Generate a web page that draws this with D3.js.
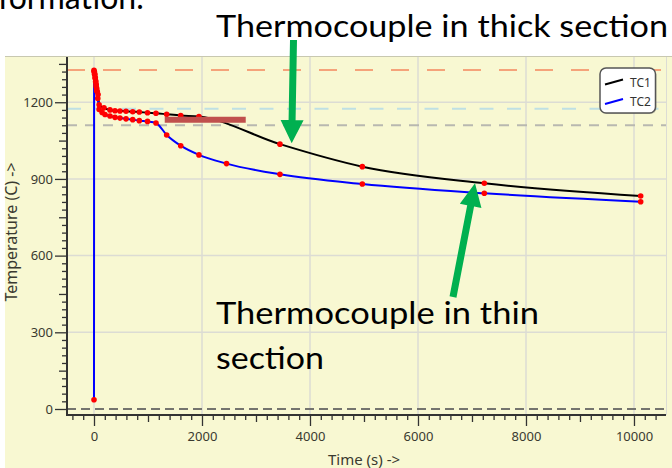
<!DOCTYPE html>
<html><head><meta charset="utf-8">
<script src="https://cdn.jsdelivr.net/npm/d3@7"></script>
<style>html,body{margin:0;padding:0;background:#fff;}svg{display:block;}</style>
</head><body>
<script>
// ---- data ----
const tc1Time = [0,8,16,24,32,40,50,60,75,95,185,296,389,481,593,717,839,991,1148,1346,1606,1944,3444,4969,7228,10124];
const tc1Temp = [1325,1318,1308,1296,1283,1270,1255,1242,1230,1190,1178,1170,1167,1166,1165,1163,1162,1159,1157,1153,1148,1144,1036,948,883,833];
const tc2Time = [0,2,10,20,30,40,50,70,95,150,204,296,389,481,593,717,839,991,1148,1346,1606,1944,2454,3444,4969,7228,10124];
const tc2Temp = [36,1320,1310,1295,1280,1262,1245,1215,1172,1160,1152,1146,1141,1138,1135,1132,1128,1125,1119,1072,1030,994,960,918,880,844,811];
const xTickValues = [0,2000,4000,6000,8000,10000];
const yTickValues = [0,300,600,900,1200];
const refLevels = [1326,1175,1110,0];
const seriesNames = ["TC1","TC2"];
const xLabel = "Time (s) ->";
const yLabel = "Temperature (C) ->";
const noteTop = "Thermocouple in thick section";
const noteThin = ["Thermocouple in thin","section"];
const noteCut = "formation.";

const W=672,H=468;
const svg=d3.select("body").append("svg").attr("width",W).attr("height",H);
const L=67,R=666,T=57,B=415;
const x=d3.scaleLinear().domain([-500,10593]).range([L,R]);
const y=d3.scaleLinear().domain([-23.5,1377]).range([B,T]);
const bg="#f8f8d2";
svg.append("rect").attr("x",5).attr("y",56).attr("width",W-5).attr("height",H-56).attr("fill",bg);
svg.append("line").attr("x1",5).attr("x2",W).attr("y1",56.5).attr("y2",56.5).attr("stroke","#c8c8b0").attr("stroke-width",1);

// grid
const grid=svg.append("g");
grid.selectAll(".vg").data(xTickValues).join("line").attr("x1",d=>x(d)).attr("x2",d=>x(d)).attr("y1",T).attr("y2",B).attr("stroke","#dcdcd4").attr("stroke-width",1.5);
grid.selectAll(".hg").data(yTickValues.filter(d=>d>0)).join("line").attr("x1",L).attr("x2",R).attr("y1",d=>y(d)).attr("y2",d=>y(d)).attr("stroke","#dcdcd4").attr("stroke-width",1.5);
svg.append("line").attr("x1",R+0.5).attr("x2",R+0.5).attr("y1",T).attr("y2",B).attr("stroke","#dcdcd4").attr("stroke-width",1);

// reference dashed lines
const refStyle=[{c:"#f5a37a",d:"18,18",w:2},{c:"#bfe0e4",d:"14,13.5",w:2},{c:"#b8b8b0",d:"10,8",w:2},{c:"#74746e",d:"9,5",w:2.2}];
svg.selectAll(".ref").data(refLevels).join("line").attr("x1",L).attr("x2",R).attr("y1",d=>y(d)).attr("y2",d=>y(d))
 .attr("stroke",(d,i)=>refStyle[i].c).attr("stroke-dasharray",(d,i)=>refStyle[i].d).attr("stroke-width",(d,i)=>refStyle[i].w);

// axes
const fontAx="'Noto Sans', 'Open Sans', sans-serif";
function styleAxis(g){g.select(".domain").remove();g.selectAll("line").attr("stroke","#333").attr("stroke-width",1.3);g.selectAll("text").attr("fill","#3a3a30").attr("font-family",fontAx).attr("font-size",13);}
const yMinor=d3.range(-0,1377,30).filter(v=>v%150!==0);
const yMed=d3.range(150,1377,300);
svg.append("g").attr("transform",`translate(${L},0)`).call(d3.axisLeft(y).tickValues(yMinor).tickSize(5).tickFormat("")).call(styleAxis);
svg.append("g").attr("transform",`translate(${L},0)`).call(d3.axisLeft(y).tickValues(yMed).tickSize(8).tickFormat("")).call(styleAxis);
svg.append("g").attr("transform",`translate(${L},0)`).call(d3.axisLeft(y).tickValues(yTickValues).tickSize(12).tickPadding(2).tickFormat(d3.format("d"))).call(styleAxis);
const xMinor=d3.range(-400,10593,200).filter(v=>v%1000!==0);
const xMed=d3.range(-0,10593,1000).filter(v=>v%2000!==0);
svg.append("g").attr("transform",`translate(0,${B})`).call(d3.axisBottom(x).tickValues(xMinor).tickSize(5).tickFormat("")).call(styleAxis);
svg.append("g").attr("transform",`translate(0,${B})`).call(d3.axisBottom(x).tickValues(xMed).tickSize(7).tickFormat("")).call(styleAxis);
svg.append("g").attr("transform",`translate(0,${B})`).call(d3.axisBottom(x).tickValues(xTickValues).tickSize(11).tickPadding(6).tickFormat(d3.format("d"))).call(styleAxis);
svg.append("line").attr("x1",L).attr("x2",L).attr("y1",T).attr("y2",B+1).attr("stroke","#333").attr("stroke-width",2);
svg.append("line").attr("x1",L-1).attr("x2",R).attr("y1",B).attr("y2",B).attr("stroke","#333").attr("stroke-width",2);

svg.append("text").attr("x",364).attr("y",465).attr("text-anchor","middle").attr("font-family",fontAx).attr("font-size",15).attr("fill","#3a3a30").text(xLabel);
svg.append("text").attr("transform",`translate(17,${(T+B)/2-4}) rotate(-90)`).attr("text-anchor","middle").attr("font-family",fontAx).attr("font-size",16).attr("fill","#3a3a30").text(yLabel);

// series
const s1=tc1Time.map((t,i)=>[t,tc1Temp[i]]);
const s2=tc2Time.map((t,i)=>[t,tc2Temp[i]]);
const line=d3.line().x(d=>x(d[0])).y(d=>y(d[1])).curve(d3.curveMonotoneX);
svg.append("path").datum(s1).attr("d",line).attr("fill","none").attr("stroke","#000").attr("stroke-width",2);
svg.append("path").datum(s2).attr("d",line).attr("fill","none").attr("stroke","#0000ff").attr("stroke-width",2);
svg.append("g").selectAll("circle").data(s1.concat(s2)).join("circle").attr("cx",d=>x(d[0])).attr("cy",d=>y(d[1])).attr("r",2.8).attr("fill","#ff0000");

// legend
const lg=svg.append("g");
lg.append("rect").attr("x",601).attr("y",69).attr("width",55.5).attr("height",45).attr("rx",6).attr("fill","#555").attr("opacity",0.25);
lg.append("rect").attr("x",600).attr("y",68).attr("width",55.5).attr("height",45).attr("rx",6).attr("fill","#fff").attr("stroke","#555").attr("stroke-width",1.5);
const lc=["#000","#0000ff"];
seriesNames.forEach((n,i)=>{
  const yy=82+i*19.5;
  lg.append("line").attr("x1",605).attr("x2",623).attr("y1",yy+2.5).attr("y2",yy-2.5).attr("stroke",lc[i]).attr("stroke-width",2);
  lg.append("text").attr("x",630).attr("y",yy+4.5).attr("font-family",fontAx).attr("font-size",12).attr("fill","#333").text(n);
});

// annotations
const fontNote="Lato, 'Open Sans', sans-serif";
svg.append("text").attr("x",-2).attr("y",9).attr("font-family",fontNote).attr("font-size",32).attr("fill","#000").text(noteCut);
svg.append("text").attr("x",216).attr("y",37).attr("font-family",fontNote).attr("font-size",31).attr("fill","#000").attr("textLength",452).attr("lengthAdjust","spacingAndGlyphs").text(noteTop);
svg.append("text").attr("x",216).attr("y",324).attr("font-family",fontNote).attr("font-size",31).attr("fill","#000").attr("textLength",323).attr("lengthAdjust","spacingAndGlyphs").text(noteThin[0]);
svg.append("text").attr("x",216).attr("y",369).attr("font-family",fontNote).attr("font-size",31).attr("fill","#000").attr("textLength",108).attr("lengthAdjust","spacingAndGlyphs").text(noteThin[1]);

// brown bar
svg.append("line").attr("x1",x(1310)).attr("x2",x(2810)).attr("y1",y(1132)).attr("y2",y(1132)).attr("stroke","#c0504d").attr("stroke-width",6);

function arrow(x0,y0,x1,y1,sw,hl,hw){
  const dx=x1-x0,dy=y1-y0,len=Math.hypot(dx,dy),ux=dx/len,uy=dy/len,px=-uy,py=ux;
  const bx=x1-ux*hl,by=y1-uy*hl;
  const pts=[[x0+px*sw/2,y0+py*sw/2],[bx+px*sw/2,by+py*sw/2],[bx+px*hw,by+py*hw],[x1,y1],[bx-px*hw,by-py*hw],[bx-px*sw/2,by-py*sw/2],[x0-px*sw/2,y0-py*sw/2]];
  svg.append("polygon").attr("points",pts.map(p=>p.join(",")).join(" ")).attr("fill","#00b050");
}
arrow(293.5,40,x(3661),y(1040),7,23,11.5);
arrow(453,297,x(7056),y(883),7,23,11);
</script>
</body></html>
